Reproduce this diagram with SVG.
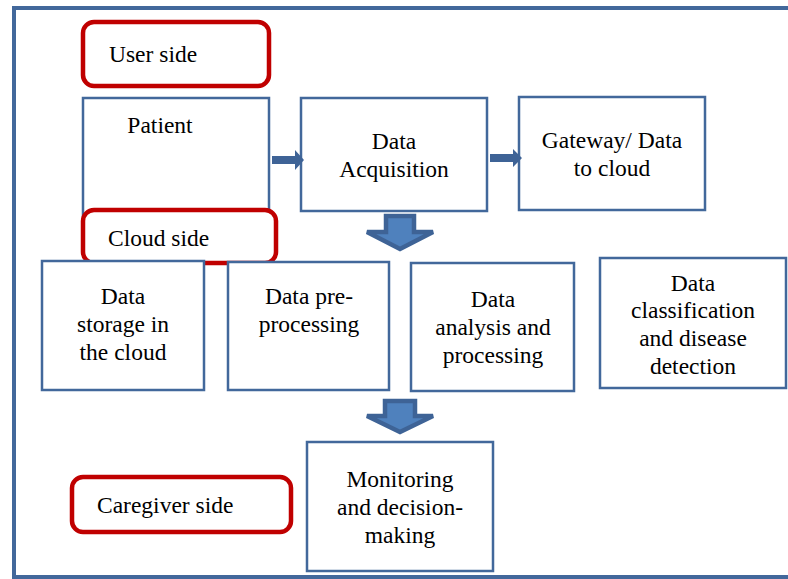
<svg xmlns="http://www.w3.org/2000/svg" width="788" height="579" viewBox="0 0 788 579" font-family="Liberation Serif, Times New Roman, serif">
<style>
.box{fill:#fff;stroke:#42689B;stroke-width:2.5}
.side{fill:#fff;stroke:#C00000;stroke-width:4.5}
.t{font-size:23.5px;fill:#000}
.c{text-anchor:middle}
.arr{fill:#3E6396}
.down{fill:#4F81BD;stroke:#3E6396;stroke-width:4.5;stroke-linejoin:miter}
</style>
<rect width="788" height="579" fill="#fff"/>
<path d="M14,579 V8 H788" fill="none" stroke="#42689B" stroke-width="4"/>
<line x1="12" y1="577" x2="788" y2="577" stroke="#42689B" stroke-width="4"/>
<g id="user-side">
<rect class="side" x="83" y="22" width="186" height="64" rx="11"/>
<text class="t" x="109" y="62" font-family="Liberation Serif">User side</text>
</g>
<g id="patient">
<rect class="box" x="83" y="98" width="186" height="118"/>
<text class="t c" x="160" y="133" font-family="Liberation Serif">Patient</text>
</g>
<g id="data-acquisition" font-family="Liberation Serif">
<rect class="box" x="301" y="98" width="186" height="113"/>
<text class="t c" x="394" y="149">Data</text>
<text class="t c" x="394" y="177">Acquisition</text>
</g>
<g id="gateway" font-family="Liberation Serif">
<rect class="box" x="519" y="97" width="186" height="113"/>
<text class="t c" x="612" y="148">Gateway/ Data</text>
<text class="t c" x="612" y="176">to cloud</text>
</g>
<g id="cloud-side" font-family="Liberation Serif">
<rect class="side" x="83" y="210" width="193" height="53" rx="11"/>
<text class="t" x="108" y="246">Cloud side</text>
</g>
<g id="data-storage" font-family="Liberation Serif">
<rect class="box" x="42" y="261" width="162" height="129"/>
<text class="t c" x="123" y="304">Data</text>
<text class="t c" x="123" y="332">storage in</text>
<text class="t c" x="123" y="360">the cloud</text>
</g>
<g id="pre-processing" font-family="Liberation Serif">
<rect class="box" x="228" y="262" width="161" height="128"/>
<text class="t c" x="309" y="304">Data pre-</text>
<text class="t c" x="309" y="332">processing</text>
</g>
<g id="analysis" font-family="Liberation Serif">
<rect class="box" x="411" y="263" width="163" height="128"/>
<text class="t c" x="493" y="307">Data</text>
<text class="t c" x="493" y="335">analysis and</text>
<text class="t c" x="493" y="363">processing</text>
</g>
<g id="classification" font-family="Liberation Serif">
<rect class="box" x="600" y="258" width="186" height="130"/>
<text class="t c" x="693" y="291">Data</text>
<text class="t c" x="693" y="318">classification</text>
<text class="t c" x="693" y="346">and disease</text>
<text class="t c" x="693" y="374">detection</text>
</g>
<g id="caregiver-side" font-family="Liberation Serif">
<rect class="side" x="72" y="477" width="219" height="55" rx="11"/>
<text class="t" x="97" y="513">Caregiver side</text>
</g>
<g id="monitoring" font-family="Liberation Serif">
<rect class="box" x="307" y="442" width="186" height="129"/>
<text class="t c" x="400" y="487">Monitoring</text>
<text class="t c" x="400" y="515">and decision-</text>
<text class="t c" x="400" y="543">making</text>
</g>
<g id="connectors">
<path class="arr" d="M272,156 H295 V150 L304,160 L295,170 V164 H272 Z"/>
<path class="arr" d="M490,154 H513 V149 L522,158 L513,167 V162 H490 Z"/>
<path class="down" d="M386,216 H414 V232 H433 L400,249 L367,232 H386 Z"/>
<path class="down" d="M385,401 H415 V416 H433 L400,432 L367,416 H385 Z"/>
</g>
</svg>
